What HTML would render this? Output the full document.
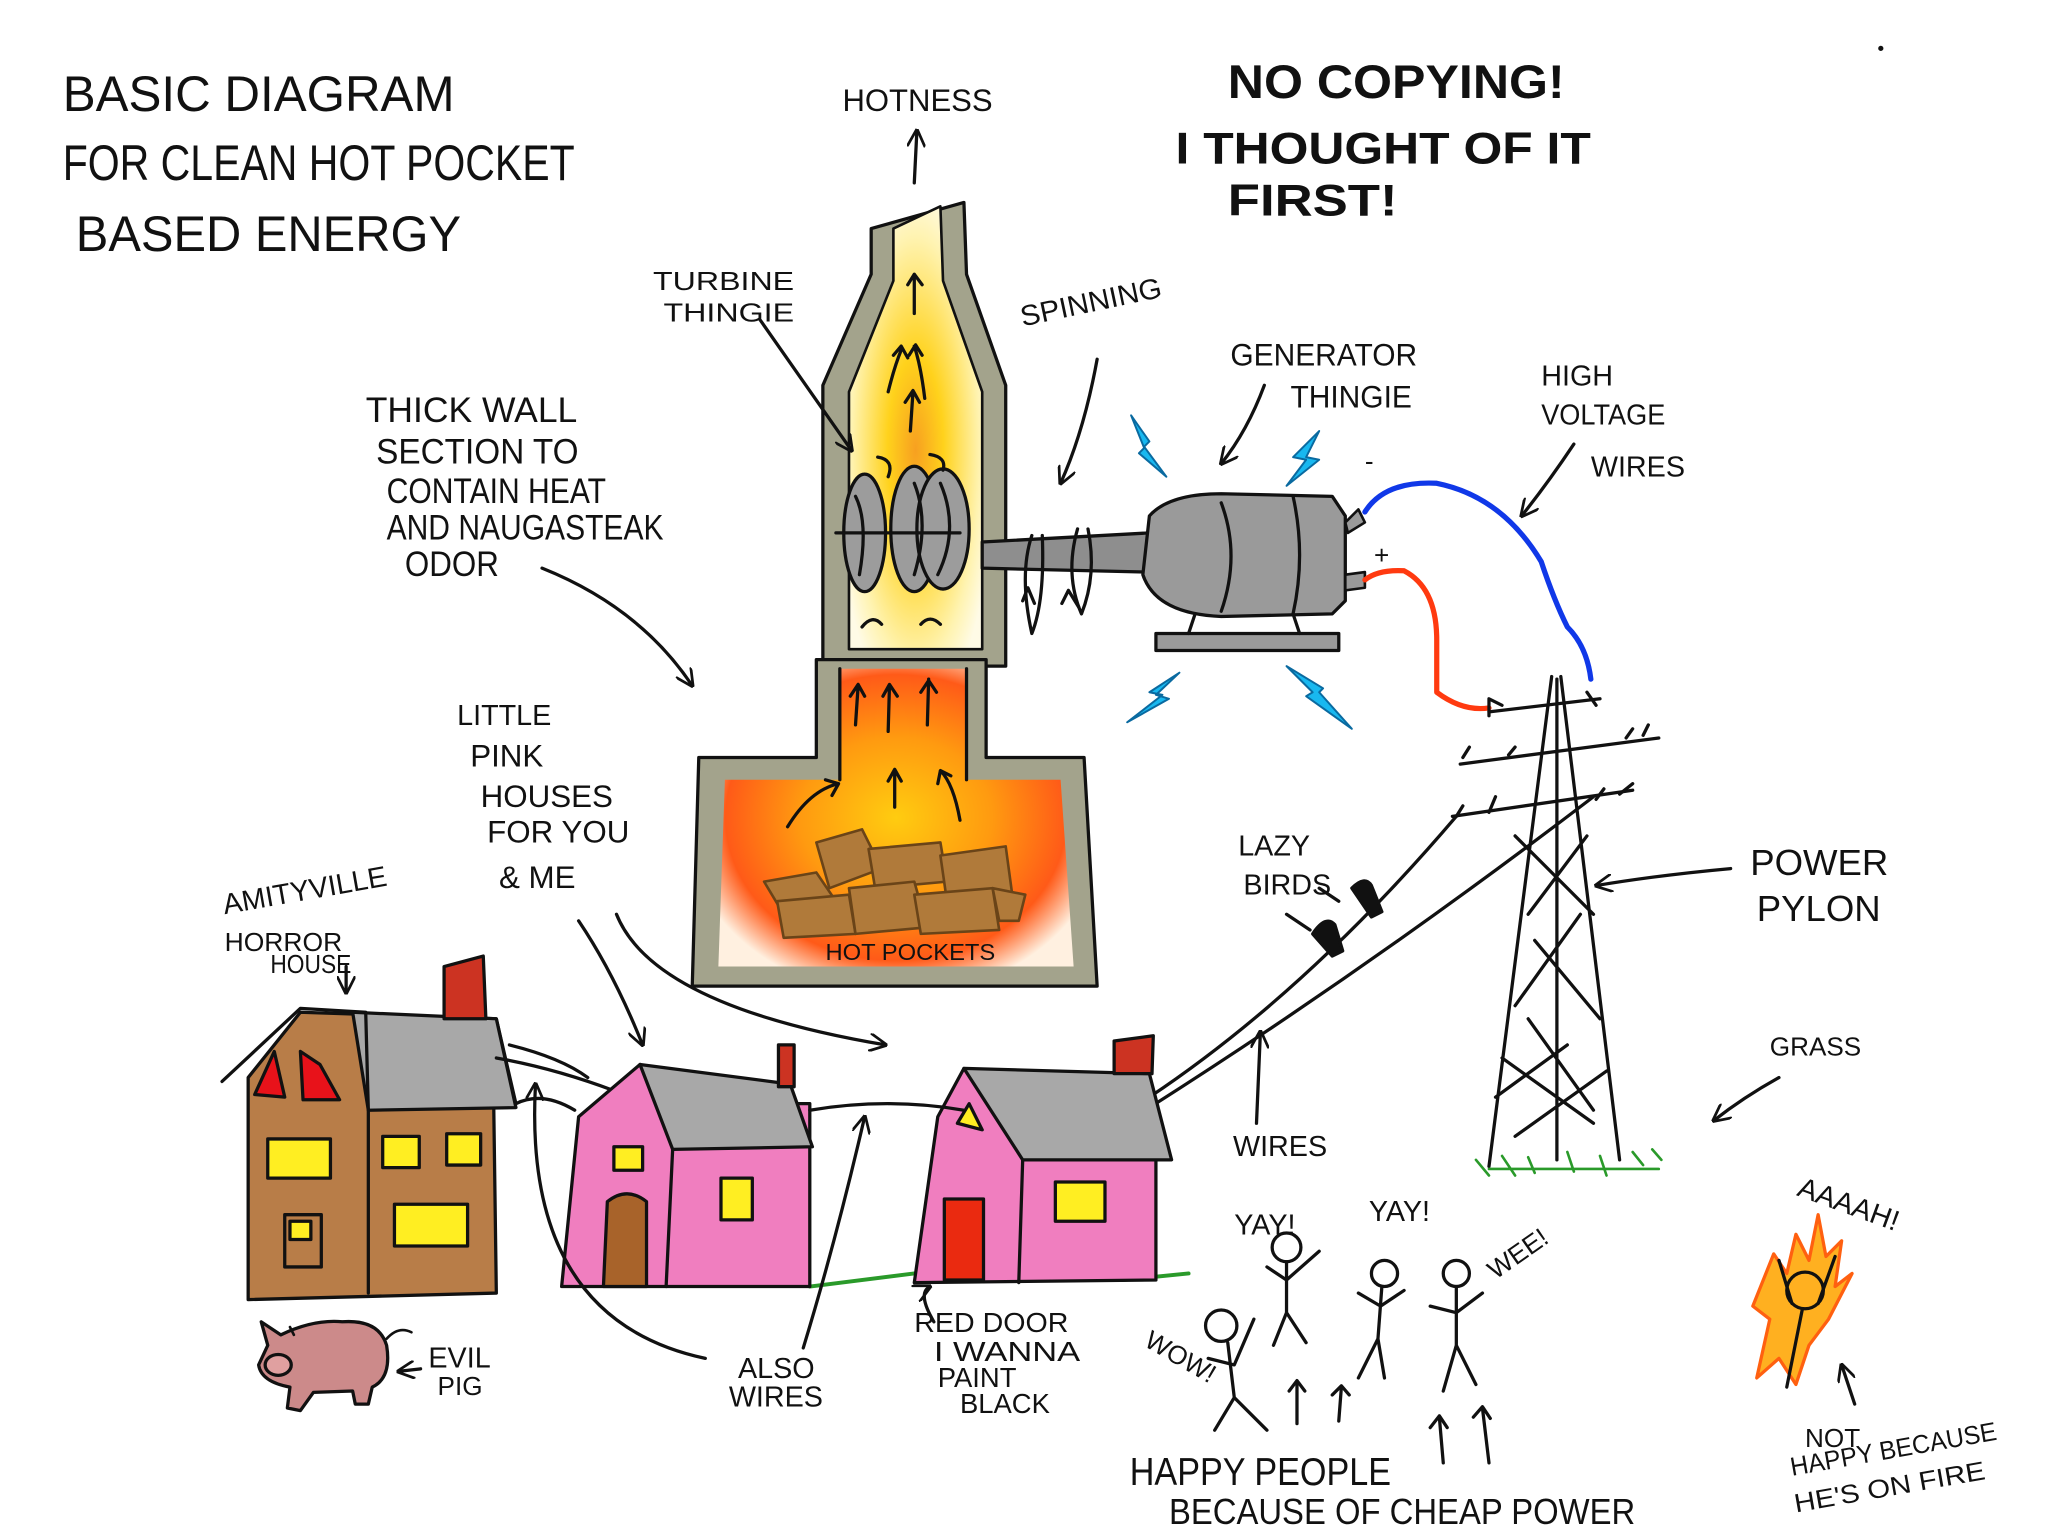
<!DOCTYPE html>
<html><head><meta charset="utf-8"><style>
html,body{margin:0;padding:0;background:#fff;}
svg{display:block;}
text{font-family:"Liberation Sans",sans-serif;fill:#111;}
</style></head><body>
<svg width="2048" height="1536" viewBox="0 0 1568 1176" preserveAspectRatio="none" xmlns="http://www.w3.org/2000/svg">
<defs>
<radialGradient id="upg" cx="0.5" cy="0.55" r="0.6">
<stop offset="0" stop-color="#f7a020"/><stop offset="0.35" stop-color="#ffd21c"/><stop offset="0.8" stop-color="#fff3b0"/><stop offset="1" stop-color="#fffbe6"/>
</radialGradient>
<radialGradient id="lowg" cx="0.5" cy="0.5" r="0.6">
<stop offset="0" stop-color="#ffcc10"/><stop offset="0.45" stop-color="#ff9a10"/><stop offset="0.8" stop-color="#ff5a18"/><stop offset="1" stop-color="#fff0e0"/>
</radialGradient>
<marker id="ar" viewBox="0 0 10 10" refX="9" refY="5" markerWidth="14" markerHeight="14" markerUnits="userSpaceOnUse" orient="auto"><path d="M0,0 L10,5 L0,10" fill="none" stroke="#111" stroke-width="1.5"/></marker>
</defs>
<g stroke="#111" stroke-width="2.5" fill="none" stroke-linecap="round" stroke-linejoin="round">

<!-- chimney upper -->
<path d="M667,175 L667,210 L630,295 L630,510 L770,510 L770,295 L740,210 L738,155 Z" fill="#a3a38c"/>
<path d="M684,175 L684,215 L650,300 L650,497 L752,497 L752,300 L722,215 L720,158 Z" fill="url(#upg)" stroke-width="2"/>
<!-- lower furnace -->
<path d="M625,505 L625,580 L535,580 L530,755 L840,755 L830,580 L755,580 L755,505 Z" fill="#a3a38c"/>
<path d="M643,512 L643,597 L555,597 L550,740 L822,740 L812,597 L740,597 L740,512 Z" fill="url(#lowg)" stroke="none"/>
<path d="M643,512 L643,597 M740,512 L740,597" />
<path d="M700,240 L700,210 M695,218 L700,210 L706,218" />
<path d="M680,300 Q685,280 690,268 M684,272 L690,265 L695,274 M708,305 Q705,280 700,265 M696,272 L701,264 L706,272 M697,330 L699,300 M693,308 L699,299 L704,308"/>
<path d="M655,555 L657,525 M651,533 L657,524 L662,533 M680,560 L681,525 M676,533 L681,524 L687,533 M710,555 L711,520 M705,530 L711,521 L717,530"/>
<path d="M603,633 Q620,605 642,600 M632,597 L642,600 L637,609 M685,618 L685,590 M680,598 L685,589 L690,598 M735,628 Q730,600 720,590 M718,600 L720,590 L728,594"/>
<g fill="#b07a3a" stroke="#6a4418" stroke-width="2">
<path d="M585,675 L625,668 L640,690 L600,700 Z"/><path d="M625,645 L660,635 L675,665 L635,680 Z"/>
<path d="M665,650 L720,645 L725,675 L670,680 Z"/><path d="M720,655 L770,648 L775,685 L725,690 Z"/>
<path d="M595,690 L650,685 L655,715 L600,718 Z"/><path d="M650,680 L700,675 L710,710 L655,715 Z"/>
<path d="M700,685 L760,680 L765,712 L705,715 Z"/><path d="M760,680 L785,685 L780,705 L765,705 Z"/>
</g>
<g fill="#9c9c9c" stroke-width="2.5">
<ellipse cx="662" cy="408" rx="16" ry="45"/><ellipse cx="700" cy="405" rx="18" ry="48"/><ellipse cx="722" cy="405" rx="20" ry="46"/>
</g>
<path d="M655,380 Q665,400 658,440 M700,370 Q712,400 700,440 M720,370 Q735,405 718,440 M640,408 L735,408"/>
<path d="M672,350 Q685,352 680,365 M712,348 Q725,350 722,360 M660,480 Q668,470 675,478 M705,478 Q712,470 720,478"/>
<path d="M752,415 L880,408 L880,438 L752,435 Z" fill="#8e8e8e"/>
<path d="M790,410 Q780,440 790,485 Q800,460 798,410 M825,405 Q815,440 828,470 Q840,440 833,405"/>
<path d="M783,460 L787,450 L792,462 M813,462 L818,452 L826,465"/>
<path d="M880,395 Q895,378 935,378 L1020,380 L1030,395 L1030,460 L1020,470 L935,472 Q885,470 875,440 Z" fill="#9a9a9a"/>
<path d="M935,385 Q950,425 935,468 M990,380 Q1000,425 990,470"/>
<path d="M1030,400 L1040,390 L1045,400 L1032,408 Z M1030,440 L1045,438 L1045,450 L1030,452 Z" fill="#9a9a9a" stroke-width="2"/>
<path d="M885,485 L1025,485 L1025,498 L885,498 Z" fill="#9a9a9a"/>
<path d="M910,485 L915,470 M995,485 L990,470"/>
<path d="M1045,392 Q1060,368 1100,370 Q1150,380 1180,430 Q1190,460 1200,480 Q1215,495 1218,520" stroke="#1038e8" stroke-width="4"/>
<path d="M1045,444 Q1055,436 1075,437 Q1100,450 1100,490 L1100,530 Q1120,545 1140,542" stroke="#ff3a10" stroke-width="4"/>
<text x="1045" y="360" style="font-size:20px" stroke="none">-</text>
<text x="1052" y="432" style="font-size:20px" stroke="none">+</text>
<g fill="#18b8f0" stroke="#0a6aa0" stroke-width="1.5">
<path d="M866,318 L880,338 L876,342 L893,365 L872,347 L876,343 Z"/>
<path d="M1010,330 L990,350 L1000,352 L985,372 L1010,352 L1000,350 Z"/>
<path d="M903,515 L880,530 L890,532 L863,553 L895,535 L885,532 Z"/>
<path d="M985,510 L1005,530 L1000,533 L1035,558 L1010,530 L1013,527 Z"/>
</g>
<!-- pylon -->
<path d="M1188,518 L1140,893 M1195,518 L1240,888 M1192,520 L1192,888 M1140,545 L1225,535 M1118,585 L1270,565 M1112,625 L1250,605 M1170,780 L1220,850 M1210,700 L1160,770 M1175,720 L1225,780 M1150,810 L1220,860 M1160,640 L1220,700 M1215,640 L1170,700 M1145,840 L1200,800 M1160,870 L1230,820"/>
<path d="M1140,548 L1140,535 L1150,540 M1215,530 L1222,540 M1120,580 L1125,572 M1155,578 L1160,572 M1245,565 L1250,558 M1258,563 L1262,555 M1115,625 L1120,617 M1140,622 L1145,610 M1222,612 L1228,604 M1240,608 L1250,600"/>
<path d="M880,840 Q1000,760 1115,625 M880,848 Q1050,740 1220,610"/>
<g fill="#111"><path d="M1005,715 Q1015,700 1022,708 L1028,728 L1020,732 Z"/><path d="M1035,680 Q1045,670 1050,678 L1058,698 L1050,702 Z"/></g>
<path d="M1130,888 L1140,900 M1150,885 L1160,900 M1170,886 L1175,898 M1200,882 L1205,897 M1225,885 L1230,900 M1250,882 L1258,892 M1265,880 L1272,888 M1140,895 L1270,895" stroke="#2a9a2a" stroke-width="2"/>
<path d="M620,985 L700,975 M860,980 L910,975" stroke="#2a9a2a" stroke-width="3"/>

<!-- brown house -->
<path d="M190,825 L230,775 L380,780 L395,845 L378,845 L380,990 L190,995 Z" fill="#b87d48"/>
<path d="M270,775 L380,780 L395,848 L282,850 Z" fill="#a8a8a8"/>
<path d="M170,828 L230,772 L280,775 L282,850 M282,850 L282,990"/>
<path d="M340,740 L370,732 L372,780 L340,780 Z" fill="#cc3322"/>
<g fill="#e8121a"><path d="M195,838 L210,805 L218,840 Z"/><path d="M230,805 L245,815 L260,842 L232,842 Z"/></g>
<g fill="#ffee22"><rect x="205" y="872" width="48" height="30"/><rect x="293" y="870" width="28" height="24"/><rect x="342" y="868" width="26" height="24"/><rect x="302" y="922" width="56" height="32"/><rect x="218" y="930" width="28" height="40" fill="#b87d48"/></g>
<rect x="222" y="935" width="16" height="14" fill="#ffee22"/>
<path d="M390,800 Q430,810 450,825 M380,810 Q425,818 470,835"/>
<!-- pink house 1 -->
<path d="M443,855 L490,815 L510,845 L620,845 L620,985 L430,985 Z" fill="#f07ebf"/>
<path d="M490,815 L605,830 L622,878 L515,880 Z" fill="#a8a8a8"/>
<path d="M515,880 L510,985"/>
<path d="M596,800 L608,800 L608,832 L596,832 Z" fill="#cc3322"/>
<rect x="470" y="878" width="22" height="18" fill="#ffee22"/><rect x="552" y="902" width="24" height="32" fill="#ffee22"/>
<path d="M462,985 L465,920 Q480,908 495,920 L495,985 Z" fill="#a8632a"/>
<!-- pink house 2 -->
<path d="M718,855 L738,818 L785,850 L885,850 L885,980 L700,982 Z" fill="#f07ebf"/>
<path d="M738,818 L880,822 L897,888 L783,888 Z" fill="#a8a8a8"/>
<path d="M783,888 L780,982"/>
<path d="M853,797 L883,793 L882,822 L853,822 Z" fill="#cc3322"/>
<path d="M733,860 L742,845 L752,865 Z" fill="#ffee22"/><rect x="808" y="905" width="38" height="30" fill="#ffee22"/>
<rect x="723" y="918" width="30" height="62" fill="#ea2a10"/>
<path d="M620,850 Q680,840 738,850 M395,845 Q415,835 440,850"/>
<!-- pig -->
<path d="M205,1030 L200,1012 L215,1022 Q240,1010 262,1012 Q290,1010 296,1030 Q300,1055 285,1062 L282,1075 L272,1075 L270,1065 L240,1066 L230,1080 L220,1078 L222,1062 Q200,1058 198,1045 Z" fill="#cc8a8a"/>
<ellipse cx="213" cy="1045" rx="10" ry="8" fill="#e0a0a0"/>
<path d="M225,1022 L222,1016 M296,1025 Q305,1015 315,1020" stroke-width="2"/>
<!-- stick figures -->
<circle cx="985" cy="955" r="11"/><path d="M985,966 L985,1005 L975,1030 M985,1005 L1000,1028 M970,970 L985,980 L1010,958"/>
<circle cx="1060" cy="975" r="10"/><path d="M1058,985 L1055,1025 L1040,1055 M1055,1025 L1060,1055 M1040,990 L1057,1000 L1075,988"/>
<circle cx="1115" cy="975" r="10"/><path d="M1115,985 L1115,1030 L1105,1065 M1115,1030 L1130,1060 M1095,1000 L1115,1005 L1135,990"/>
<circle cx="935" cy="1015" r="12"/><path d="M940,1028 L945,1070 L930,1095 M945,1070 L970,1095 M925,1040 L945,1045 L960,1010"/>
<!-- fire person -->
<path d="M1358,960 L1368,975 L1375,945 L1385,965 L1392,930 L1398,962 L1410,950 L1405,985 L1418,975 L1400,1010 L1385,1030 L1375,1060 L1362,1040 L1345,1055 L1355,1010 L1342,1000 Z" fill="#ffb020" stroke="#ff6010" stroke-width="2.5"/>
<circle cx="1382" cy="988" r="14" fill="none"/><path d="M1380,1002 L1368,1062 M1372,998 L1362,965 M1392,998 L1405,962"/>

<path d="M700,140 L702,100" marker-end="url(#ar)"/>
<path d="M582,245 L652,345" marker-end="url(#ar)"/>
<path d="M415,435 Q490,465 530,525" marker-end="url(#ar)"/>
<path d="M840,275 Q830,330 812,370" marker-end="url(#ar)"/>
<path d="M968,295 Q955,330 935,355" marker-end="url(#ar)"/>
<path d="M1205,340 Q1185,370 1165,395" marker-end="url(#ar)"/>
<path d="M1325,665 Q1270,670 1222,678" marker-end="url(#ar)"/>
<path d="M1362,825 Q1335,840 1312,858" marker-end="url(#ar)"/>
<path d="M265,740 L265,760" marker-end="url(#ar)"/>
<path d="M443,705 Q470,745 492,800" marker-end="url(#ar)"/>
<path d="M472,700 Q500,770 678,800" marker-end="url(#ar)"/>
<path d="M962,860 L965,790" marker-end="url(#ar)"/>
<path d="M985,700 L1003,712 M1010,680 L1025,690"/>
<path d="M540,1040 Q400,1010 410,830" marker-end="url(#ar)"/>
<path d="M615,1032 Q640,950 662,855" marker-end="url(#ar)"/>
<path d="M715,1012 Q702,990 712,985" marker-end="url(#ar)"/>
<path d="M322,1048 L305,1050" marker-end="url(#ar)"/>
<path d="M993,1090 L993,1058 M1025,1088 L1027,1062 M1105,1120 L1102,1085 M1140,1120 L1135,1078" />
<path d="M987,1065 L993,1057 L999,1065 M1020,1068 L1027,1061 L1033,1068 M1095,1093 L1102,1084 L1108,1093 M1128,1085 L1135,1077 L1141,1086"/>
<path d="M1420,1075 L1410,1045" marker-end="url(#ar)"/>
</g>

<g stroke="none">
<text x="48" y="85" style="font-size:38px" textLength="300" lengthAdjust="spacingAndGlyphs">BASIC DIAGRAM</text>
<text x="48" y="138" style="font-size:38px" textLength="392" lengthAdjust="spacingAndGlyphs">FOR CLEAN HOT POCKET</text>
<text x="58" y="192" style="font-size:38px" textLength="295" lengthAdjust="spacingAndGlyphs">BASED ENERGY</text>
<text x="940" y="75" style="font-size:36px;font-weight:bold" textLength="258" lengthAdjust="spacingAndGlyphs">NO COPYING!</text>
<text x="900" y="125" style="font-size:34px;font-weight:bold" textLength="318" lengthAdjust="spacingAndGlyphs">I THOUGHT OF IT</text>
<text x="940" y="165" style="font-size:34px;font-weight:bold" textLength="130" lengthAdjust="spacingAndGlyphs">FIRST!</text>
<text x="645" y="85" style="font-size:24px" textLength="115" lengthAdjust="spacingAndGlyphs">HOTNESS</text>
<text x="500" y="222" style="font-size:20px" textLength="108" lengthAdjust="spacingAndGlyphs">TURBINE</text>
<text x="508" y="246" style="font-size:20px" textLength="100" lengthAdjust="spacingAndGlyphs">THINGIE</text>
<text x="783" y="250" style="font-size:22px" transform="rotate(-12 783 250)" textLength="110" lengthAdjust="spacingAndGlyphs">SPINNING</text>
<text x="942" y="280" style="font-size:24px" textLength="143" lengthAdjust="spacingAndGlyphs">GENERATOR</text>
<text x="988" y="312" style="font-size:24px" textLength="93" lengthAdjust="spacingAndGlyphs">THINGIE</text>
<text x="1180" y="295" style="font-size:22px">HIGH</text>
<text x="1180" y="325" style="font-size:22px" textLength="95" lengthAdjust="spacingAndGlyphs">VOLTAGE</text>
<text x="1218" y="365" style="font-size:22px">WIRES</text>
<text x="280" y="323" style="font-size:27px" textLength="162" lengthAdjust="spacingAndGlyphs">THICK WALL</text>
<text x="288" y="355" style="font-size:27px" textLength="155" lengthAdjust="spacingAndGlyphs">SECTION TO</text>
<text x="296" y="385" style="font-size:27px" textLength="168" lengthAdjust="spacingAndGlyphs">CONTAIN HEAT</text>
<text x="296" y="413" style="font-size:27px" textLength="212" lengthAdjust="spacingAndGlyphs">AND NAUGASTEAK</text>
<text x="310" y="441" style="font-size:27px" textLength="72" lengthAdjust="spacingAndGlyphs">ODOR</text>
<text x="350" y="555" style="font-size:22px">LITTLE</text>
<text x="360" y="587" style="font-size:24px">PINK</text>
<text x="368" y="618" style="font-size:24px">HOUSES</text>
<text x="373" y="645" style="font-size:24px">FOR YOU</text>
<text x="382" y="680" style="font-size:24px">&amp; ME</text>
<text x="172" y="700" style="font-size:22px" transform="rotate(-10 172 700)">AMITYVILLE</text>
<text x="172" y="728" style="font-size:20px" textLength="90" lengthAdjust="spacingAndGlyphs">HORROR</text>
<text x="207" y="745" style="font-size:20px" textLength="62" lengthAdjust="spacingAndGlyphs">HOUSE</text>
<text x="632" y="735" style="font-size:18px" textLength="130" lengthAdjust="spacingAndGlyphs">HOT POCKETS</text>
<text x="948" y="655" style="font-size:22px">LAZY</text>
<text x="952" y="685" style="font-size:22px">BIRDS</text>
<text x="1340" y="670" style="font-size:28px">POWER</text>
<text x="1345" y="705" style="font-size:28px">PYLON</text>
<text x="1355" y="808" style="font-size:20px">GRASS</text>
<text x="944" y="885" style="font-size:22px">WIRES</text>
<text x="945" y="945" style="font-size:22px">YAY!</text>
<text x="1048" y="935" style="font-size:22px">YAY!</text>
<text x="1145" y="980" style="font-size:20px" transform="rotate(-35 1145 980)">WEE!</text>
<text x="875" y="1030" style="font-size:20px" transform="rotate(30 875 1030)">WOW!</text>
<text x="1375" y="915" style="font-size:22px" transform="rotate(20 1375 915)">AAAAH!</text>
<text x="865" y="1137" style="font-size:30px" textLength="200" lengthAdjust="spacingAndGlyphs">HAPPY PEOPLE</text>
<text x="895" y="1167" style="font-size:28px" textLength="357" lengthAdjust="spacingAndGlyphs">BECAUSE OF CHEAP POWER</text>
<text x="1382" y="1108" style="font-size:20px">NOT</text>
<text x="1372" y="1130" style="font-size:20px" transform="rotate(-10 1372 1130)" textLength="160" lengthAdjust="spacingAndGlyphs">HAPPY BECAUSE</text>
<text x="1375" y="1158" style="font-size:20px" transform="rotate(-10 1375 1158)" textLength="148" lengthAdjust="spacingAndGlyphs">HE'S ON FIRE</text>
<text x="328" y="1047" style="font-size:22px">EVIL</text>
<text x="335" y="1068" style="font-size:20px">PIG</text>
<text x="565" y="1055" style="font-size:22px">ALSO</text>
<text x="558" y="1077" style="font-size:22px">WIRES</text>
<text x="700" y="1020" style="font-size:21px" textLength="118" lengthAdjust="spacingAndGlyphs">RED DOOR</text>
<text x="715" y="1042" style="font-size:21px" textLength="112" lengthAdjust="spacingAndGlyphs">I WANNA</text>
<text x="718" y="1062" style="font-size:21px">PAINT</text>
<text x="735" y="1082" style="font-size:21px">BLACK</text>
</g>
<circle cx="1440" cy="37" r="2" fill="#111"/>
</svg>
</body></html>
